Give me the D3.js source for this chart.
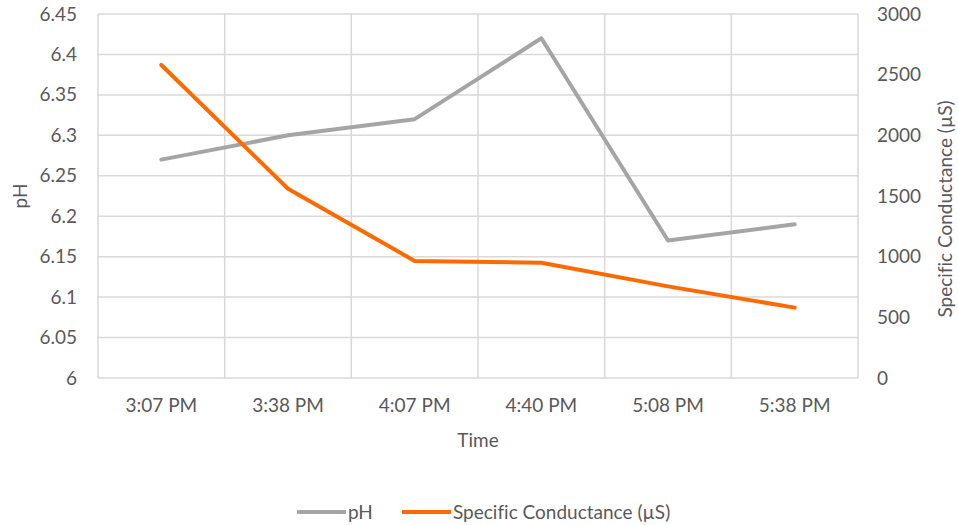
<!DOCTYPE html>
<html><head><meta charset="utf-8">
<script src="https://cdn.jsdelivr.net/npm/d3@7"></script>
<style>body{margin:0;background:#fff}text{font-family:Lato,"Open Sans",sans-serif;fill:#595959;font-variant-ligatures:none;font-feature-settings:"liga" 0}</style>
</head><body><svg id="c" width="958" height="525"></svg>
<script>
const categories = ["3:07 PM","3:38 PM","4:07 PM","4:40 PM","5:08 PM","5:38 PM"];
const phValues = [6.27, 6.30, 6.32, 6.42, 6.17, 6.19];
const condValues = [2580, 1560, 965, 950, 755, 580];
const phTicks = [6,6.05,6.1,6.15,6.2,6.25,6.3,6.35,6.4,6.45];
const condTicks = [0,500,1000,1500,2000,2500,3000];

const svg = d3.select("#c");
const L=98, R=858, T=14, B=378;
const FS="19px";
const x = d3.scaleBand().domain(categories).range([L,R]);
const yL = d3.scaleLinear().domain([6,6.45]).range([B,T]);
const yR = d3.scaleLinear().domain([0,3000]).range([B,T]);
const grid="#d9d9d9";

svg.append("g").selectAll("line").data(phTicks).join("line")
  .attr("x1",L).attr("x2",R).attr("y1",d=>yL(d)).attr("y2",d=>yL(d))
  .attr("stroke",grid).attr("stroke-width",1.5);
const bounds = categories.map(c=>x(c)).concat([R]);
svg.append("g").selectAll("line").data(bounds).join("line")
  .attr("x1",d=>d).attr("x2",d=>d).attr("y1",T).attr("y2",B)
  .attr("stroke",grid).attr("stroke-width",1.5);

const axL = svg.append("g").attr("transform",`translate(${L},0)`)
  .call(d3.axisLeft(yL).tickValues(phTicks).tickSize(0).tickPadding(21).tickFormat(d=>d3.format("")(+d.toFixed(2))));
axL.select(".domain").remove();
axL.selectAll("text").style("font-size",FS).attr("fill","#595959");
const axR = svg.append("g").attr("transform",`translate(${R},0)`)
  .call(d3.axisRight(yR).tickValues(condTicks).tickSize(0).tickPadding(19).tickFormat(d3.format("")));
axR.select(".domain").remove();
axR.selectAll("text").style("font-size",FS).attr("fill","#595959");
const axB = svg.append("g").attr("transform",`translate(0,${B})`)
  .call(d3.axisBottom(x).tickSize(0).tickPadding(21));
axB.select(".domain").remove();
axB.selectAll("text").style("font-size",FS).attr("fill","#595959");

svg.append("text").attr("transform",`translate(27,${(T+B)/2}) rotate(-90)`).attr("text-anchor","middle").style("font-size",FS).text("pH");
svg.append("text").attr("transform",`translate(952,${(T+B)/2+13}) rotate(-90)`).attr("text-anchor","middle").style("font-size",FS).text("Specific Conductance  (µS)");
svg.append("text").attr("x",(L+R)/2).attr("y",447).attr("text-anchor","middle").style("font-size",FS).text("Time");

const cx = d=>x(d)+x.bandwidth()/2;
const linePh = d3.line().x((d,i)=>cx(categories[i])).y(d=>yL(d));
const lineC = d3.line().x((d,i)=>cx(categories[i])).y(d=>yR(d));
svg.append("path").attr("d",linePh(phValues)).attr("fill","none").attr("stroke","#a5a5a5").attr("stroke-width",4).attr("stroke-linejoin","round").attr("stroke-linecap","round");
svg.append("path").attr("d",lineC(condValues)).attr("fill","none").attr("stroke","#ff6a00").attr("stroke-width",4).attr("stroke-linejoin","round").attr("stroke-linecap","round");

const lg = svg.append("g");
const legendItems = [{name:"pH",color:"#a5a5a5",x:297},{name:"Specific Conductance (µS)",color:"#ff6a00",x:402}];
legendItems.forEach(it=>{
  lg.append("line").attr("x1",it.x).attr("x2",it.x+49).attr("y1",512).attr("y2",512).attr("stroke",it.color).attr("stroke-width",4);
  lg.append("text").attr("x",it.x+51).attr("y",519).style("font-size",FS).text(it.name);
});
</script></body></html>
